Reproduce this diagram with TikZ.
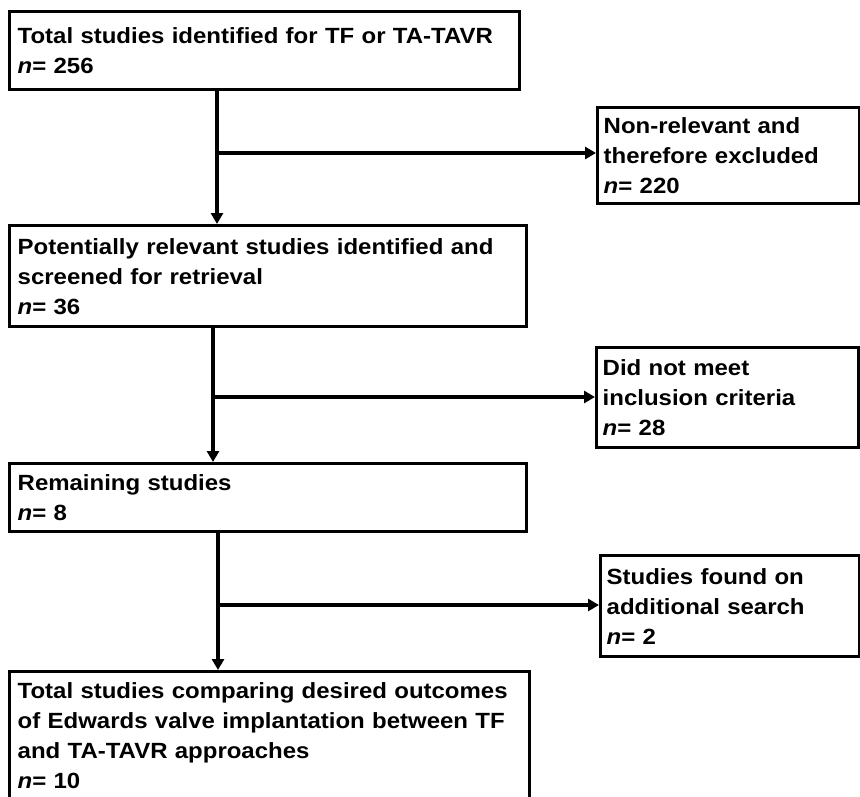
\documentclass[tikz,border=0pt]{standalone}
\usepackage{fontspec}
\setmainfont{Liberation Sans}[FakeStretch=1.09]
\usetikzlibrary{arrows.meta}
\begin{document}
\begin{tikzpicture}[x=1pt,y=-1pt,
  box/.style={draw, line width=3.4pt, anchor=north west, align=left,
    inner xsep=8pt, inner ysep=0pt,
    font=\fontsize{22}{30}\selectfont\bfseries},
  arr/.style={line width=3.2pt, -{Triangle[length=11pt,width=12pt]}}]
\useasboundingbox (0,0) rectangle (860,796);
\clip (0,0) rectangle (860,796);
% main column
\node[box, minimum width=510pt, minimum height=78pt, text width=494pt] (b1) at (8,10)
  {Total studies identified for TF or TA-TAVR\\\textit{n}= 256\\[-4pt]};
\node[box, minimum width=517pt, minimum height=101pt, text width=501pt] (b2) at (8,224)
  {Potentially relevant studies identified and\\screened for retrieval\\\textit{n}= 36};
\node[box, minimum width=517pt, minimum height=68pt, text width=501pt] (b3) at (8,462)
  {Remaining studies\\\textit{n}= 8};
\node[box, minimum width=520pt, text width=504pt, inner ysep=11pt] (b4) at (8,670)
  {Total studies comparing desired outcomes\\of Edwards valve implantation between TF\\and TA-TAVR approaches\\\textit{n}= 10\\[20pt]};
% side column
\node[box, minimum width=262pt, minimum height=96pt, text width=250pt, inner xsep=6pt] (r1) at (596,106)
  {Non-relevant and\\therefore excluded\\\textit{n}= 220};
\node[box, minimum width=262pt, minimum height=100pt, text width=250pt, inner xsep=6pt] (r2) at (595,346)
  {Did not meet\\inclusion criteria\\\textit{n}= 28};
\node[box, minimum width=259pt, minimum height=101pt, text width=247pt, inner xsep=6pt] (r3) at (599,554)
  {Studies found on\\additional search\\\textit{n}= 2};
% junctions
\coordinate (j1) at (217,153);
\coordinate (j2) at (213,397);
\coordinate (j3) at (218,605);
\draw[arr] (j1 |- b1.south) -- (j1 |- b2.north);
\draw[arr] (j1) -- (j1 -| r1.west);
\draw[arr] (j2 |- b2.south) -- (j2 |- b3.north);
\draw[arr] (j2) -- (j2 -| r2.west);
\draw[arr] (j3 |- b3.south) -- (j3 |- b4.north);
\draw[arr] (j3) -- (j3 -| r3.west);
\end{tikzpicture}
\end{document}
